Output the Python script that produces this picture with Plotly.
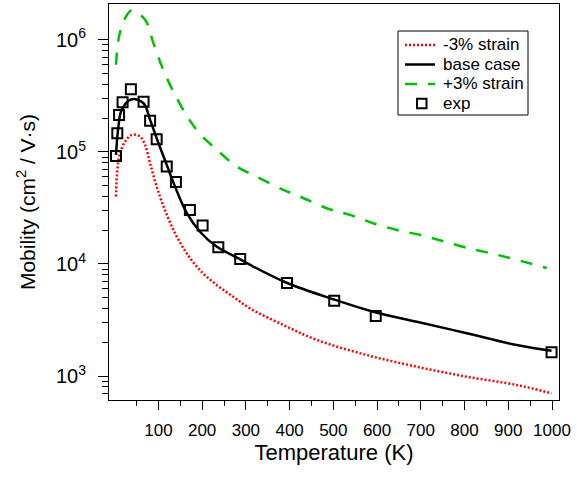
import plotly.graph_objects as go

# ---- data ----
T_base = [3, 8.5, 16, 39, 66, 81, 100, 119, 138, 165, 195, 233, 287, 310, 393, 500, 591, 691, 805, 919, 999]
mu_base = [9.4e4, 1.68e5, 2.37e5, 2.95e5, 2.72e5, 1.93e5, 1.20e5, 7.66e4, 4.90e4, 2.84e4, 1.94e4,
           1.43e4, 1.10e4, 9.8e3, 6.8e3, 4.84e3, 3.75e3, 3.05e3, 2.41e3, 1.89e3, 1.68e3]

T_minus = [3, 6, 12, 24, 39, 58, 69.5, 81, 96, 115, 138, 165, 195, 233, 271, 310, 386, 462, 576, 691, 805, 919, 999]
mu_minus = [4.0e4, 6.9e4, 9.7e4, 1.24e5, 1.42e5, 1.37e5, 1.15e5, 7.9e4, 4.9e4, 3.03e4, 1.88e4, 1.24e4,
            8.8e3, 6.5e3, 5.1e3, 4.0e3, 2.85e3, 2.10e3, 1.54e3, 1.21e3, 986, 832, 701]

T_plus = [3, 8.5, 16, 28, 39, 69.5, 88.5, 111, 138, 168.5, 195, 233, 279, 325, 386, 424, 485, 538,
          591, 645, 698, 755, 809, 862, 919, 988]
mu_plus = [6.0e5, 1.0e6, 1.31e6, 1.67e6, 1.83e6, 1.51e6, 9.35e5, 5.4e5, 3.23e5, 2.0e5, 1.45e5, 1.05e5,
           7.4e4, 6.0e4, 4.58e4, 3.99e4, 3.14e4, 2.74e4, 2.31e4, 2.01e4, 1.82e4, 1.58e4, 1.38e4,
           1.24e4, 1.09e4, 9.2e3]

T_exp = [3, 6, 10, 18, 37, 66, 81, 96, 119, 140, 172, 201, 237, 287, 394, 502, 597, 999]
mu_exp = [9.2e4, 1.47e5, 2.14e5, 2.78e5, 3.63e5, 2.81e5, 1.90e5, 1.30e5, 7.4e4, 5.4e4, 3.03e4,
          2.20e4, 1.41e4, 1.11e4, 6.77e3, 4.70e3, 3.43e3, 1.63e3]

series_names = ["-3% strain", "base case", "+3% strain", "exp"]

x_ticks = [100, 200, 300, 400, 500, 600, 700, 800, 900, 1000]
x_minor = [50, 150, 250, 350, 450, 550, 650, 750, 850, 950]
y_ticks = [1e3, 1e4, 1e5, 1e6]
y_ticklabels = ["10<sup>3</sup>", "10<sup>4</sup>", "10<sup>5</sup>", "10<sup>6</sup>"]
y_minor = [m * 10 ** e for e in (2, 3, 4, 5) for m in range(2, 10) if m * 10 ** e < 1.9e6]

FONT = "Arial, 'Liberation Sans', sans-serif"
RED, BLACK, GREEN = "#ff0000", "black", "#00c000"
RED_LINE = dict(color=RED, width=2.5, dash="2px,2px")
BLACK_LINE = dict(color=BLACK, width=2.5)
GREEN_LINE = dict(color=GREEN, width=2.5, dash="12px,11px")

fig = go.Figure()
fig.add_trace(go.Scatter(x=T_minus, y=mu_minus, mode="lines", name=series_names[0],
                         line=dict(**RED_LINE, shape="spline")))
fig.add_trace(go.Scatter(x=T_base, y=mu_base, mode="lines", name=series_names[1],
                         line=dict(**BLACK_LINE, shape="spline")))
fig.add_trace(go.Scatter(x=T_plus, y=mu_plus, mode="lines", name=series_names[2],
                         line=dict(**GREEN_LINE, shape="spline")))
fig.add_trace(go.Scatter(x=T_exp, y=mu_exp, mode="markers", name=series_names[3],
                         marker=dict(symbol="square-open", size=10, color=BLACK,
                                     line=dict(width=2, color=BLACK))))

# ---- legend box drawn in paper coordinates (compact row spacing as in the reference) ----
L, R, T, B = 109, 559, 4, 400          # plot-area pixel edges
px = lambda v: (v - L) / (R - L)
py = lambda v: (B - v) / (B - T)
rows = [45, 64.5, 84, 103.5]
shapes = [dict(type="rect", xref="paper", yref="paper", x0=px(398), x1=px(528), y0=py(115), y1=py(31),
               line=dict(color="black", width=1), fillcolor="white", layer="above")]
for yy, ln in zip(rows[:3], [RED_LINE, BLACK_LINE, GREEN_LINE]):
    shapes.append(dict(type="line", xref="paper", yref="paper", x0=px(405), x1=px(435),
                       y0=py(yy), y1=py(yy), line=ln, layer="above"))
shapes.append(dict(type="rect", xref="paper", yref="paper", x0=px(417), x1=px(426.5),
                   y0=py(rows[3] + 4.75), y1=py(rows[3] - 4.75), line=dict(color="black", width=2),
                   layer="above"))
annotations = [dict(text=n, xref="paper", yref="paper", x=px(441), y=py(yy), xanchor="left",
                    yanchor="middle", showarrow=False, font=dict(size=17, family=FONT, color="black"))
               for n, yy in zip(series_names, rows)]

fig.update_layout(
    width=577, height=478,
    margin=dict(l=109, r=18, t=4, b=78),
    paper_bgcolor="white", plot_bgcolor="white",
    font=dict(family=FONT, color="black"),
    showlegend=False,
    shapes=shapes, annotations=annotations,
)
fig.update_xaxes(
    range=[-13, 1016], showgrid=False, zeroline=False, automargin=False,
    showline=True, linecolor="black", linewidth=1, mirror=True,
    tickmode="array", tickvals=x_ticks, ticks="outside", ticklen=9, tickwidth=1, tickcolor="black",
    tickfont=dict(size=17), ticklabelstandoff=6,
    minor=dict(tickmode="array", tickvals=x_minor, ticks="outside", ticklen=5, tickcolor="black"),
    title=dict(text="Temperature (K)", font=dict(size=22), standoff=2),
)
fig.update_yaxes(
    type="log", range=[2.786, 6.32], showgrid=False, zeroline=False, automargin=False,
    showline=True, linecolor="black", linewidth=1, mirror=True,
    tickmode="array", tickvals=y_ticks, ticktext=y_ticklabels,
    ticks="outside", ticklen=10, tickwidth=1, tickcolor="black",
    tickfont=dict(size=20), ticklabelstandoff=8,
    minor=dict(tickmode="array", tickvals=y_minor, ticks="outside", ticklen=6, tickcolor="black"),
    title=dict(text="Mobility (cm<sup>2</sup> / V·s)", font=dict(size=21), standoff=14),
)

fig.write_html("out.html", config={"displayModeBar": False},
               post_script="document.body.style.margin='0';document.body.style.padding='0';")
